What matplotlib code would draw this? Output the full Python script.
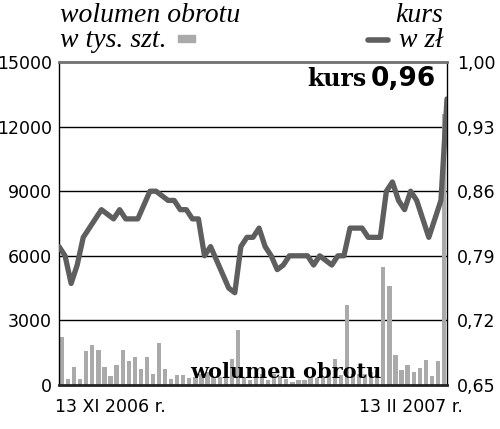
import numpy as np
import matplotlib
matplotlib.use("Agg")
import matplotlib.pyplot as plt
from matplotlib.patches import Rectangle
from matplotlib.lines import Line2D

# daily volume, thousands of shares (64 sessions)
wolumen = [2220, 270, 830, 280, 1560, 1880, 1640, 840, 420, 920,
           1630, 1125, 1310, 735, 1300, 530, 1950, 750, 270, 450,
           450, 340, 360, 500, 600, 360, 360, 380, 1220, 2540,
           390, 230, 390, 515, 230, 515, 435, 300, 155, 230,
           230, 340, 340, 340, 550, 1230, 470, 3700, 500, 500,
           500, 600, 700, 5470, 4590, 1400, 700, 940, 625, 810,
           1140, 440, 1125, 12600]

# share price in PLN (65 points along the same period)
kurs = [0.80, 0.79, 0.76, 0.78, 0.81, 0.82, 0.83, 0.84, 0.835, 0.83,
        0.84, 0.83, 0.83, 0.83, 0.845, 0.86, 0.86, 0.855, 0.85, 0.85,
        0.84, 0.84, 0.83, 0.83, 0.79, 0.80, 0.785, 0.77, 0.755, 0.75,
        0.80, 0.81, 0.81, 0.82, 0.80, 0.79, 0.775, 0.78, 0.79, 0.79,
        0.79, 0.79, 0.78, 0.79, 0.785, 0.78, 0.79, 0.79, 0.82, 0.82,
        0.82, 0.81, 0.81, 0.81, 0.86, 0.87, 0.85, 0.84, 0.86, 0.85,
        0.83, 0.81, 0.83, 0.85, 0.96]

vol_ticks = [0, 3000, 6000, 9000, 12000, 15000]
kurs_ticks = [0.65, 0.72, 0.79, 0.86, 0.93, 1.00]
kurs_labels = ["0,65", "0,72", "0,79", "0,86", "0,93", "1,00"]

BAR = "#aaaaaa"
LINE = "#5e5e5e"

fig = plt.figure(figsize=(5, 4.29), dpi=100)
ax = fig.add_axes([59 / 500, 1 - 385 / 429, 388 / 500, 323 / 429])

x = np.arange(len(wolumen))
ax.bar(x, wolumen, width=0.7, color=BAR, zorder=2)
ax.set_xlim(-0.5, len(wolumen) - 0.5)
ax.set_ylim(0, 15000)
ax.set_yticks(vol_ticks)
ax.set_xticks([])
for v in vol_ticks[1:-1]:
    ax.axhline(v, color="black", lw=1, zorder=1)
ax.tick_params(axis="y", length=0, pad=5, labelsize=12.5)

for s in ["left", "right"]:
    ax.spines[s].set_linewidth(1)
    ax.spines[s].set_color("black")
ax.spines["bottom"].set_linewidth(2)
ax.spines["bottom"].set_color("#222222")
ax.spines["top"].set_linewidth(2)
ax.spines["top"].set_color("#707070")

ax2 = ax.twinx()
xk = np.linspace(-0.5, len(wolumen) - 0.5, len(kurs))
ax2.plot(xk, kurs, color=LINE, lw=3.8, solid_joinstyle="round",
         solid_capstyle="round", zorder=3)
ax2.set_ylim(0.65, 1.00)
ax2.set_yticks(kurs_ticks)
ax2.set_yticklabels(kurs_labels)
ax2.tick_params(axis="y", length=0, pad=7, labelsize=12.5)
for s in ax2.spines.values():
    s.set_visible(False)

# in-plot labels
ax2.text(366 / 500, 1 - 86 / 429, "kurs", transform=fig.transFigure, ha="right",
         va="baseline", fontsize=17, fontweight="bold", family="DejaVu Serif")
ax2.text(371 / 500, 1 - 86 / 429, "0,96", transform=fig.transFigure, ha="left",
         va="baseline", fontsize=19, fontweight="bold", family="DejaVu Sans")
ax2.text(190 / 500, 1 - 378 / 429, "wolumen obrotu", transform=fig.transFigure,
         ha="left", va="baseline", fontsize=15, fontweight="bold",
         family="DejaVu Serif", zorder=5)

# headers
fig.text(60 / 500, 1 - 3 / 429, "wolumen obrotu", ha="left", va="top",
         fontsize=20, style="italic", family="Liberation Serif")
fig.text(60 / 500, 1 - 28 / 429, "w tys. szt.", ha="left", va="top",
         fontsize=20, style="italic", family="Liberation Serif")
fig.text(443 / 500, 1 - 3 / 429, "kurs", ha="right", va="top",
         fontsize=20, style="italic", family="Liberation Serif")
fig.text(443 / 500, 1 - 28 / 429, "w zł", ha="right", va="top",
         fontsize=20, style="italic", family="Liberation Serif")
fig.add_artist(Rectangle((178 / 500, 1 - 42 / 429), 17 / 500, 7 / 429,
                         transform=fig.transFigure, color=BAR))
fig.add_artist(Line2D([368 / 500, 388 / 500], [1 - 40 / 429, 1 - 40 / 429],
                      transform=fig.transFigure, color=LINE, lw=4,
                      solid_capstyle="round"))

# dates
fig.text(55 / 500, 1 - 398 / 429, "13 XI 2006 r.", ha="left", va="top", fontsize=12.5)
fig.text(463 / 500, 1 - 398 / 429, "13 II 2007 r.", ha="right", va="top", fontsize=12.5)

fig.savefig("out.png", dpi=100)
